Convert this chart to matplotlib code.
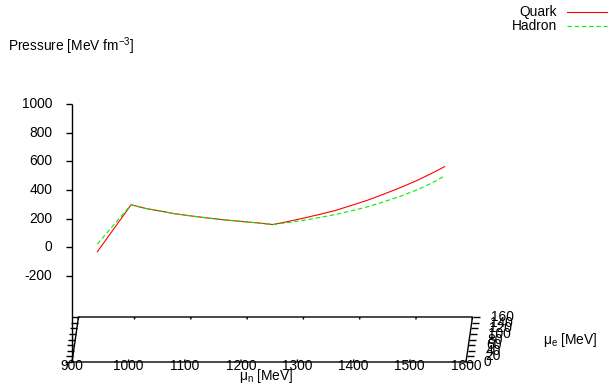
import numpy as np
import matplotlib
matplotlib.use("Agg")
from matplotlib import pyplot as plt

plt.rcParams['font.family'] = ['Liberation Sans', 'DejaVu Sans']
plt.rcParams['mathtext.fontset'] = 'custom'
plt.rcParams['mathtext.rm'] = 'Liberation Sans'
plt.rcParams['mathtext.it'] = 'Liberation Sans:italic'

# pressure curves, read along mu_n (projected onto the front plane)
mu_n_quark = [945, 1005, 1030, 1050, 1080, 1110, 1140, 1170, 1200, 1228, 1257,
              1280, 1307, 1337, 1367, 1396, 1426, 1455, 1485, 1515, 1544, 1562]
p_quark = [-31, 297, 272, 258, 236, 220, 205, 192, 181, 171, 159,
           177, 200, 227, 256, 292, 330, 373, 419, 470, 526, 563]
mu_n_hadron = [945, 1005, 1030, 1050, 1080, 1110, 1140, 1170, 1200, 1228, 1257,
               1280, 1307, 1337, 1367, 1396, 1426, 1455, 1485, 1515, 1544, 1562]
p_hadron = [23, 297, 272, 258, 236, 220, 205, 192, 181, 171, 159,
            171, 186, 206, 228, 254, 284, 319, 358, 404, 458, 499]

mu_n_ticks = [900, 1000, 1100, 1200, 1300, 1400, 1500, 1600]
mu_e_ticks = [0, 20, 40, 60, 80, 100, 120, 140, 160]
p_ticks = [-200, 0, 200, 400, 600, 800, 1000]

xmin, xmax = 900, 1600
ymin, ymax = 0, 160
zmin, zmax = -200, 1000
zbase = zmin - 0.5 * (zmax - zmin)   # ticslevel 0.5

W, H = 609, 385
sx = 394.0 / (xmax - xmin)      # px per MeV of mu_n
sz = 172.0 / (zmax - zmin)      # px per unit pressure
x0px, z1px = 72, 104            # where mu_n=900 and P=1000 land
ex = 6.5 / sx / (ymax - ymin)   # horizontal drift per MeV of mu_e
ez = 45.0 / sz / (ymax - ymin)  # vertical drift per MeV of mu_e


def proj(mn, me, p):
    mn = np.asarray(mn, float)
    me = np.asarray(me, float)
    p = np.asarray(p, float)
    return mn + me * ex, p + me * ez


fig = plt.figure(figsize=(W / 100, H / 100), dpi=100)
ax = fig.add_axes([0, 0, 1, 1])
ax.set_xlim(xmin - x0px / sx, xmin + (W - x0px) / sx)
ax.set_ylim(zmax - (H - z1px) / sz, zmax + z1px / sz)
ax.axis('off')

k = dict(color='black', lw=1.0, solid_capstyle='butt', clip_on=False)
fs = 9.9

# base of the box
bx, by = proj([xmin, xmax, xmax, xmin, xmin], [ymin, ymin, ymax, ymax, ymin], [zbase] * 5)
ax.plot(bx, by, **k)
# vertical z border
ax.plot([xmin, xmin], [zbase, zmax], **k)

# z tics
tl = 6 / sx
for t in p_ticks:
    ax.plot([xmin - tl, xmin], [t, t], **k)
    ax.text(xmin - 20 / sx, t, str(t), ha='right', va='center', fontsize=fs)

# mu_e tics on both sides
tl = 7 / sx
for t in mu_e_ticks:
    lx, ly = proj(xmin, t, zbase)
    ax.plot([lx - tl, lx], [ly, ly], **k)
    rx, ry = proj(xmax, t, zbase)
    ax.plot([rx, rx + tl], [ry, ry], **k)
    ax.text(rx + 18 / sx, ry, str(t), ha='left', va='center', fontsize=fs)

# mu_n tics on front and back edges
tl = 2.5 / 45 * (ymax - ymin)
for t in mu_n_ticks:
    fx, fy = proj([t, t], [ymin, ymin + tl], [zbase, zbase])
    ax.plot(fx, fy, **k)
    bx2, by2 = proj([t, t], [ymax - tl, ymax], [zbase, zbase])
    ax.plot(bx2, by2, **k)
    ax.text(t, zbase - 4 / sz, str(t), ha='center', va='center', fontsize=fs)

# curves
qx, qy = proj(mu_n_quark, 0, p_quark)
ax.plot(qx, qy, color='#ff0000', lw=0.8)
hx, hy = proj(mu_n_hadron, 0, p_hadron)
ax.plot(hx, hy, color='#00ee00', lw=0.8, dashes=(4, 2.5))

# axis titles
ax.text(xmin + (266 - x0px) / sx, zbase - 14 / sz, 'μ$_{\\rm n}$ [MeV]',
        ha='center', va='center', fontsize=fs)
ax.text(xmin + (543 - x0px) / sx, zbase + 22 / sz, 'μ$_{\\rm e}$ [MeV]',
        ha='left', va='center', fontsize=fs)
ax.text(xmin + (8 - x0px) / sx, zmax + 58 / sz, 'Pressure [MeV fm$^{-3}$]',
        ha='left', va='center', fontsize=fs)

# key in the top right corner
for i, (name, col, ds) in enumerate([('Quark', '#ff0000', None), ('Hadron', '#00ee00', (4, 2.5))]):
    yk = zmax + (104 - 12 - 14 * i) / sz
    ax.text(xmin + (557 - x0px) / sx, yk, name, ha='right', va='center', fontsize=fs)
    ln, = ax.plot([xmin + (567 - x0px) / sx, xmin + (607 - x0px) / sx], [yk, yk], color=col, lw=0.8)
    if ds:
        ln.set_dashes(ds)

fig.savefig('out.png', dpi=100)
